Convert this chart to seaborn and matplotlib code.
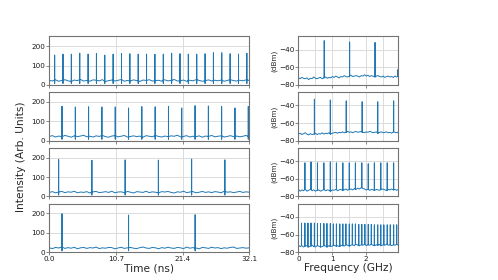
import numpy as np
import matplotlib
matplotlib.use("Agg")
import matplotlib.pyplot as plt
import seaborn as sns

# ---------------- data ----------------
t_max = 32.1
time_ticks = [0.0, 10.7, 21.4, 32.1]

pulse_t1 = [0.86, 2.20, 3.54, 4.89, 6.23, 7.57, 8.91, 10.25, 11.60, 12.94, 14.28, 15.62,
            16.96, 18.31, 19.65, 20.99, 22.33, 23.68, 25.02, 26.36, 27.70, 29.04, 30.39, 31.73]
pulse_h1 = [153, 158, 158, 163, 158, 162, 153, 158, 162, 160, 158, 158,
            157, 158, 163, 160, 158, 158, 160, 165, 165, 160, 158, 163]
pulse_t2 = [2.04, 4.18, 6.31, 8.45, 10.59, 12.73, 14.86, 17.00, 19.14, 21.27, 23.41,
            25.55, 27.68, 29.82, 31.96]
pulse_h2 = [177, 173, 174, 173, 173, 168, 175, 174, 177, 168, 180, 178, 175, 168, 177]
pulse_t3 = [1.50, 6.84, 12.18, 17.52, 22.86, 28.20]
pulse_h3 = [190, 186, 188, 187, 192, 188]
pulse_t4 = [2.04, 12.73, 23.42]
pulse_h4 = [198, 191, 193]

base_t1 = [24, 20, 26, 19, 23, 27, 21, 18, 25, 22, 28, 20, 23, 19, 26, 24, 21, 27, 18, 22, 25, 20,
           24, 28, 19, 23, 21, 26, 22, 18, 25, 23, 27, 20, 22, 24, 19, 26, 21, 23, 28, 20, 22, 25,
           18, 24, 21, 27, 23, 19, 22, 26, 20, 24, 21, 25, 19, 23, 27, 22, 20, 24, 21, 26, 23]
base_t2 = [22, 26, 19, 24, 21, 27, 23, 18, 25, 21, 24, 28, 20, 23, 19, 25, 22, 27, 21, 18, 24, 26,
           20, 23, 27, 19, 22, 25, 21, 24, 18, 26, 23, 20, 27, 22, 19, 24, 21, 25, 23, 28, 20, 22,
           26, 19, 23, 21, 25, 18, 24, 22, 27, 20, 23, 25, 19, 22, 26, 21, 24, 20, 23, 27, 22]
base_t3 = [21, 25, 19, 23, 26, 20, 24, 22, 27, 19, 23, 21, 25, 18, 24, 26, 20, 22, 25, 21, 27, 19,
           23, 24, 20, 26, 22, 18, 25, 23, 21, 27, 20, 24, 22, 19, 25, 23, 26, 21, 18, 24, 22, 27,
           20, 23, 25, 19, 22, 26, 21, 24, 20, 25, 23, 19, 27, 22, 24, 20, 23, 26, 21, 24, 22]
base_t4 = [23, 19, 25, 22, 27, 20, 24, 21, 26, 18, 23, 25, 20, 24, 22, 27, 19, 23, 21, 25, 24, 18,
           22, 26, 20, 23, 25, 21, 19, 24, 27, 22, 20, 25, 23, 18, 24, 21, 26, 22, 20, 25, 23, 19,
           27, 21, 24, 22, 18, 25, 23, 20, 26, 22, 24, 19, 23, 21, 25, 27, 20, 22, 24, 21, 23]

f_max = 2.95
freq_ticks = [0, 1, 2]

peak_f1 = [0.76, 1.51, 2.26, 2.93]
peak_p1 = [-30.0, -31.5, -32.0, -63.0]
peak_f2 = [0.47, 0.94, 1.41, 1.88, 2.34, 2.81]
peak_p2 = [-33.0, -34.0, -35.0, -36.0, -36.0, -35.0]
peak_f3 = [0.0, 0.19, 0.37, 0.56, 0.75, 0.94, 1.12, 1.31, 1.50, 1.68, 1.87, 2.06, 2.24, 2.43,
           2.62, 2.81]
peak_p3 = [-20.0, -42, -41, -42, -42, -41, -42, -42, -42, -42, -42, -43, -42, -42, -42, -42]
peak_f4 = [0.0, 0.09, 0.19, 0.28, 0.37, 0.47, 0.56, 0.65, 0.75, 0.84, 0.94, 1.03, 1.12, 1.22,
           1.31, 1.40, 1.50, 1.59, 1.68, 1.78, 1.87, 1.96, 2.06, 2.15, 2.24, 2.34, 2.43, 2.52,
           2.62, 2.71, 2.81, 2.90]
peak_p4 = [-20.0, -47, -47, -47, -47, -47, -47.5, -47.5, -47.5, -47.5, -47.5, -48, -48, -48,
           -48, -48, -48, -48, -48, -48.5, -48.5, -48.5, -48.5, -48.5, -49, -49, -49, -49,
           -49, -49, -49, -49]

base_f1 = [-72, -73, -71.5, -72.5, -73, -72, -74, -72.5, -73, -71, -72.5, -73, -72, -71.5, -73,
           -72, -71, -72.5, -71.5, -72, -70.5, -71.5, -70, -71, -72, -70.5, -71, -69.5, -70.5, -71,
           -70, -69, -70.5, -70, -69.5, -70, -71, -69.5, -70, -68.5, -70, -69, -70.5, -69.5, -70,
           -71, -70, -69.5, -70.5, -71, -70, -71.5, -70.5, -70, -71, -70.5, -71.5, -70, -71, -70.5]
base_f2 = [-72.5, -71.5, -73, -72, -71, -72.5, -73.5, -72, -73, -72.5, -71.5, -73, -72, -72.5, -71,
           -72.5, -71.5, -72, -71, -72.5, -71.5, -71, -70.5, -71.5, -70.5, -71, -70, -71, -70.5, -69.5,
           -70.5, -70, -71, -70, -69.5, -70.5, -70, -69.5, -70.5, -71, -70, -70.5, -69.5, -70, -71,
           -70.5, -70, -71.5, -70.5, -70, -71, -70.5, -70, -71, -70.5, -71.5, -70, -70.5, -71, -70]
base_f3 = [-72, -74, -72.5, -73.5, -72, -74, -73, -72, -73.5, -72.5, -74, -73, -72.5, -74, -73,
           -72, -73.5, -72.5, -73, -74, -72.5, -73, -72, -73.5, -72.5, -72, -73, -72.5, -71.5, -73,
           -72, -71.5, -72.5, -71, -72, -70.5, -71.5, -70, -71, -71.5, -72.5, -72, -73, -72, -72.5,
           -73, -72, -72.5, -73, -72, -71.5, -72.5, -73, -72, -72.5, -71.5, -72.5, -72, -73, -72]
base_f4 = [-72, -73.5, -72.5, -74, -73, -72.5, -74, -73, -72, -73.5, -74, -72.5, -73, -74, -73.5,
           -72.5, -73, -74, -72.5, -73.5, -73, -72, -73, -72.5, -73.5, -72, -72.5, -73, -71.5, -72,
           -73, -72, -71.5, -72.5, -71, -72, -72.5, -71.5, -72, -71, -72.5, -71.5, -72, -71, -72,
           -72.5, -71.5, -72, -71, -72.5, -71.5, -72, -71, -72, -71.5, -72.5, -71.5, -72, -71, -72]

time_rows = [(base_t1, pulse_t1, pulse_h1), (base_t2, pulse_t2, pulse_h2),
             (base_t3, pulse_t3, pulse_h3), (base_t4, pulse_t4, pulse_h4)]
freq_rows = [(base_f1, peak_f1, peak_p1), (base_f2, peak_f2, peak_p2),
             (base_f3, peak_f3, peak_p3), (base_f4, peak_f4, peak_p4)]

# ---------------- styling ----------------
sns.set_theme(style="whitegrid")
plt.rcParams['font.family'] = ['DejaVu Sans']
LINE = '#1f77b4'
SPINE = '0.45'
GRID = '0.86'
TICKFS = 5.2
LABELFS = 7.7


def build(x_end, base, pos, val, dip=None):
    xb = np.linspace(0, x_end, len(base))
    yb = np.asarray(base, dtype=float)
    xs, ys, ks = list(xb), list(yb), [0] * len(xb)
    for p, v in zip(pos, val):
        b = yb[np.abs(xb - p).argmin()]
        pts = [b, v] + ([dip] if dip is not None else []) + [b]
        for k, yv in enumerate(pts):
            xs.append(p)
            ys.append(yv)
            ks.append(k + 1)
    xs, ys, ks = np.array(xs), np.array(ys), np.array(ks)
    o = np.lexsort((ks, xs))
    return xs[o], ys[o]


fig, axes = plt.subplots(
    4, 2, figsize=(4.98, 2.8), dpi=100,
    gridspec_kw=dict(width_ratios=[2, 1], left=0.099, right=0.8, top=0.870,
                     bottom=0.099, hspace=0.15, wspace=0.329))

for i in range(4):
    axL, axR = axes[i, 0], axes[i, 1]
    base, pos, val = time_rows[i]
    x, y = build(t_max, base, pos, val, dip=8)
    sns.lineplot(x=x, y=y, ax=axL, sort=False, estimator=None, color=LINE, lw=0.7)
    axL.set_xlim(0, t_max)
    axL.set_ylim(0, 250)
    axL.set_yticks([0, 100, 200])
    axL.set_xticks(time_ticks)
    axL.set_xticklabels([f"{v:.1f}" for v in time_ticks] if i == 3 else [])

    base, pos, val = freq_rows[i]
    x, y = build(f_max, base, pos, val)
    sns.lineplot(x=x, y=y, ax=axR, sort=False, estimator=None, color=LINE, lw=0.7)
    axR.set_xlim(0, f_max)
    axR.set_ylim(-80, -25)
    axR.set_yticks([-80, -60, -40])
    axR.set_xticks(freq_ticks)
    axR.set_xticks([0.5, 1.5, 2.5], minor=True)
    axR.set_xticklabels([str(v) for v in freq_ticks] if i == 3 else [])
    axR.set_ylabel("(dBm)", fontsize=TICKFS, labelpad=1)

    for ax in (axL, axR):
        ax.set_xlabel("")
        if ax is axL:
            ax.set_ylabel("")
        ax.grid(True, which='major', color=GRID, lw=0.7)
        ax.grid(True, which='minor', color=GRID, lw=0.7)
        for s in ax.spines.values():
            s.set_color(SPINE)
            s.set_linewidth(0.8)
        ax.tick_params(which='both', labelsize=TICKFS, length=2, width=0.6,
                       color=SPINE, pad=1, bottom=True, left=True, labelcolor='0.1')
        ax.tick_params(which='minor', length=0)

axes[3, 0].set_xlabel("Time (ns)", fontsize=LABELFS, labelpad=0.5)
axes[3, 1].set_xlabel("Frequency (GHz)", fontsize=LABELFS, labelpad=0.5)
fig.text(21 / 498, 1 - 157 / 280, "Intensity (Arb. Units)", rotation=90,
         ha='center', va='center', fontsize=LABELFS)

fig.savefig("out.png", dpi=100)
